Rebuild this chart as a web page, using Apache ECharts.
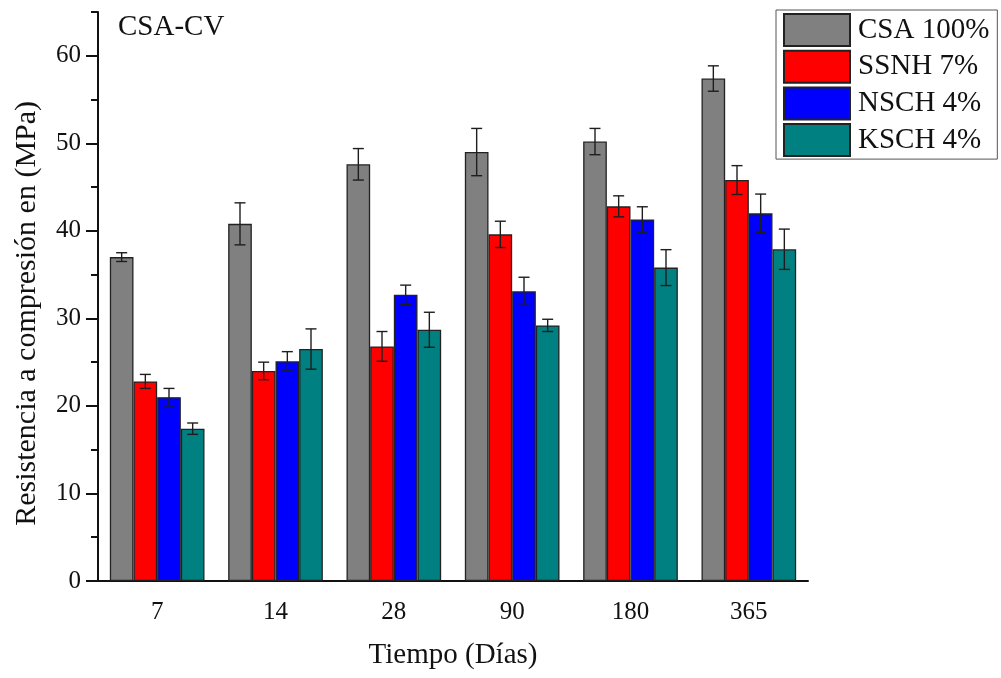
<!DOCTYPE html>
<html>
<head>
<meta charset="utf-8">
<script src="https://cdn.jsdelivr.net/npm/echarts@6/dist/echarts.min.js"></script>
<style>
  html, body { margin: 0; padding: 0; background: #ffffff; }
  #chart { width: 1001px; height: 678px; }
</style>
</head>
<body>
<div id="chart"></div>
<script>
// Curing ages (days)
var categories = ['7', '14', '28', '90', '180', '365'];

// Mean compressive strength (MPa) and standard deviation per mix
var csaValues  = [37.0, 40.8, 47.6, 49.0, 50.2, 57.4];
var csaErr     = [0.5, 2.4, 1.8, 2.7, 1.5, 1.45];
var ssnhValues = [22.8, 24.0, 26.8, 39.6, 42.8, 45.8];
var ssnhErr    = [0.8, 1.0, 1.7, 1.5, 1.2, 1.65];
var nschValues = [21.0, 25.1, 32.7, 33.1, 41.3, 42.0];
var nschErr    = [1.0, 1.1, 1.1, 1.6, 1.45, 2.2];
var kschValues = [17.4, 26.5, 28.7, 29.2, 35.8, 37.9];
var kschErr    = [0.65, 2.3, 2.0, 0.7, 2.05, 2.3];

var seriesNames = ['CSA 100%', 'SSNH 7%', 'NSCH 4%', 'KSCH 4%'];
var seriesColors = ['#808080', '#ff0000', '#0000ff', '#008080'];
var allValues = [csaValues, ssnhValues, nschValues, kschValues];
var allErrors = [csaErr, ssnhErr, nschErr, kschErr];

var FONT = "'Liberation Serif', 'Times New Roman', serif";
var INK = '#111111';
var CATEGORY_FILL = 0.8; // share of each category band covered by bars

function errorRenderer(k, count) {
  return function (params, api) {
    var cat = api.value(0);
    var v = api.value(1);
    var e = api.value(2);
    var band = api.size([1, 0])[0];
    var barW = band * CATEGORY_FILL / count;
    var cx = api.coord([cat, v])[0] + (k - (count - 1) / 2) * barW;
    var yHi = api.coord([cat, v + e])[1];
    var yLo = api.coord([cat, v - e])[1];
    var half = 5.5;
    var st = { stroke: '#1e1e1e', lineWidth: 1.4 };
    return {
      type: 'group',
      children: [
        { type: 'line', shape: { x1: cx, y1: yHi, x2: cx, y2: yLo }, style: st },
        { type: 'line', shape: { x1: cx - half, y1: yHi, x2: cx + half, y2: yHi }, style: st },
        { type: 'line', shape: { x1: cx - half, y1: yLo, x2: cx + half, y2: yLo }, style: st }
      ]
    };
  };
}

var series = [];
allValues.forEach(function (vals, k) {
  series.push({
    name: seriesNames[k],
    type: 'bar',
    xAxisIndex: 0,
    yAxisIndex: 0,
    data: vals,
    barGap: '0%',
    barCategoryGap: '20%',
    itemStyle: { color: seriesColors[k], borderColor: '#222222', borderWidth: 1.3 },
    emphasis: { disabled: true },
    animation: false
  });
});
allValues.forEach(function (vals, k) {
  series.push({
    name: seriesNames[k] + ' error',
    type: 'custom',
    xAxisIndex: 0,
    yAxisIndex: 0,
    renderItem: errorRenderer(k, allValues.length),
    data: vals.map(function (v, i) { return [i, v, allErrors[k][i]]; }),
    z: 5,
    silent: true,
    animation: false
  });
});

var option = {
  backgroundColor: '#ffffff',
  animation: false,
  textStyle: { fontFamily: FONT },
  title: {
    text: 'CSA-CV',
    left: 113,
    top: 8,
    textStyle: { fontFamily: FONT, fontSize: 29, fontWeight: 'normal', color: INK }
  },
  legend: {
    data: seriesNames,
    orient: 'vertical',
    left: 776,
    top: 10,
    icon: 'rect',
    itemWidth: 66,
    itemHeight: 32,
    itemGap: 2.7,
    padding: [3, 8, 2, 7],
    borderColor: '#555555',
    borderWidth: 1,
    selectedMode: false,
    textStyle: { fontFamily: FONT, fontSize: 29, color: INK, padding: [0, 0, 0, 3] }
  },
  grid: [
    { left: 98, right: 193, top: 12, bottom: 97 },
    { left: 98, right: 193, top: 12 + 5 * (569 / 65), bottom: 97 }
  ],
  xAxis: [
    {
      type: 'category',
      gridIndex: 0,
      position: 'bottom',
      data: categories,
      axisLine: { lineStyle: { color: INK, width: 2 } },
      axisTick: { alignWithLabel: true, length: 12, lineStyle: { color: INK, width: 2 } },
      axisLabel: { fontFamily: FONT, fontSize: 25, color: INK, margin: 19 },
      name: 'Tiempo (Días)',
      nameLocation: 'middle',
      nameGap: 60,
      nameTextStyle: { fontFamily: FONT, fontSize: 29, color: INK }
    },
    {
      type: 'category',
      gridIndex: 0,
      position: 'bottom',
      data: categories,
      axisLine: { show: false },
      axisTick: { alignWithLabel: false, length: 7, lineStyle: { color: INK, width: 2 } },
      axisLabel: { show: false }
    },
    { type: 'value', gridIndex: 1, show: false }
  ],
  yAxis: [
    {
      type: 'value',
      gridIndex: 0,
      position: 'left',
      min: 0,
      max: 65,
      interval: 5,
      axisLine: { show: true, lineStyle: { color: INK, width: 2 } },
      axisTick: { show: true, length: 7, lineStyle: { color: INK, width: 2 } },
      axisLabel: {
        fontFamily: FONT, fontSize: 25, color: INK, margin: 17,
        formatter: function (v) { return v % 10 === 0 ? String(v) : ''; }
      },
      splitLine: { show: false }
    },
    {
      type: 'value',
      gridIndex: 1,
      position: 'left',
      min: 0,
      max: 60,
      interval: 10,
      axisLine: { show: false },
      axisTick: { show: true, length: 12, lineStyle: { color: INK, width: 2 } },
      axisLabel: { show: false },
      splitLine: { show: false },
      name: 'Resistencia a compresión en (MPa)',
      nameLocation: 'middle',
      nameGap: 56,
      nameTextStyle: { fontFamily: FONT, fontSize: 30, color: INK, padding: [0, 0, 0, 10] }
    }
  ],
  series: series
};

var chart = echarts.init(document.getElementById('chart'), null, { renderer: 'canvas' });
chart.setOption(option);
</script>
</body>
</html>
